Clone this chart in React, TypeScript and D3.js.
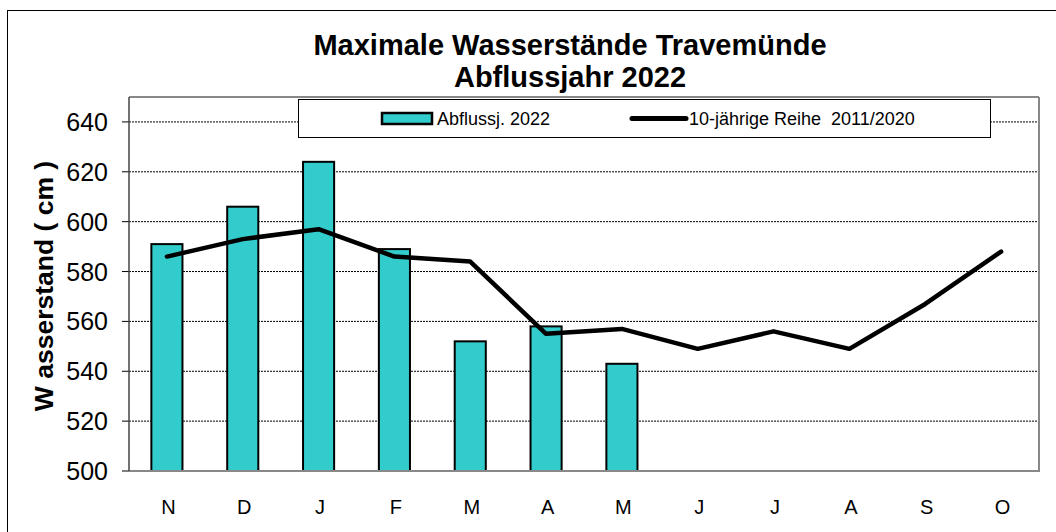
import React from 'react';
import * as d3 from 'd3';

const months = ['N', 'D', 'J', 'F', 'M', 'A', 'M', 'J', 'J', 'A', 'S', 'O'];
const abfluss2022 = [591, 606, 624, 589, 552, 558, 543];
const reihe10 = [586, 593, 597, 586, 584, 555, 557, 549, 556, 549, 567, 588];
const yTicks = [500, 520, 540, 560, 580, 600, 620, 640];

const W = 1056;
const H = 532;
const margin = { left: 129, top: 97, right: 1039, bottom: 471 };
const font = 'Arial, "Liberation Sans", sans-serif';

const App: React.FC = () => {
  const idx = months.map((_, i) => i);
  const x = d3.scaleBand<number>().domain(idx).range([margin.left, margin.right]);
  const y = d3.scaleLinear().domain([500, 650]).range([margin.bottom, margin.top]);
  const barW = x.bandwidth() * 0.41;
  const cx = (i: number) => (x(i) as number) + x.bandwidth() / 2;

  const line = d3.line<number>()
    .x((_, i) => cx(i))
    .y(d => y(d));

  return (
    <svg width={W} height={H} style={{ position: 'absolute', left: 0, top: 0 }} fontFamily={font}>
      <rect x={0} y={0} width={W} height={H} fill="#fff" />
      {/* outer chart frame */}
      <rect x={7.5} y={10.5} width={W + 20} height={H + 20} fill="none" stroke="#000" strokeWidth={1} />

      <text x={570} y={55} textAnchor="middle" fontSize={29} fontWeight="bold">Maximale Wasserstände Travemünde</text>
      <text x={570} y={87} textAnchor="middle" fontSize={29} fontWeight="bold">Abflussjahr 2022</text>

      {/* grid */}
      {yTicks.filter(t => t > 500).map(t => (
        <line key={t} x1={margin.left} x2={margin.right} y1={y(t)} y2={y(t)}
          stroke="#000" strokeWidth={1} strokeDasharray="2,1" />
      ))}

      {/* y tick marks + labels */}
      {yTicks.map(t => (
        <g key={t}>
          <line x1={margin.left - 7} x2={margin.left} y1={y(t)} y2={y(t)} stroke="#000" />
          <text x={108} y={y(t)} dy="0.36em" textAnchor="end" fontSize={25}>{t}</text>
        </g>
      ))}

      {/* bars */}
      {abfluss2022.map((v, i) => (
        <rect key={i} x={cx(i) - barW / 2} y={y(v)} width={barW} height={y(500) - y(v)}
          fill="#33CCCC" stroke="#000" strokeWidth={2} />
      ))}

      {/* plot frame */}
      <line x1={margin.left} x2={margin.right} y1={margin.top} y2={margin.top} stroke="#888" strokeWidth={2} />
      <line x1={margin.right} x2={margin.right} y1={margin.top} y2={margin.bottom} stroke="#888" strokeWidth={2} />
      <line x1={margin.left} x2={margin.right + 1} y1={margin.bottom} y2={margin.bottom} stroke="#888" strokeWidth={2} />
      <line x1={margin.left} x2={margin.left} y1={margin.top} y2={margin.bottom} stroke="#444" strokeWidth={1.5} />

      {/* 10-year line */}
      <path d={line(reihe10) ?? ''} fill="none" stroke="#000" strokeWidth={4.5} strokeLinejoin="round" strokeLinecap="round" />

      {/* x labels */}
      {months.map((m, i) => (
        <text key={i} x={cx(i) + 1.5} y={514} textAnchor="middle" fontSize={20}>{m}</text>
      ))}

      {/* y title */}
      <text transform="translate(53,286) rotate(-90)" textAnchor="middle" fontSize={26.5} fontWeight="bold">W asserstand ( cm )</text>

      {/* legend */}
      <rect x={298.5} y={99.5} width={692} height={38} fill="#fff" stroke="#000" strokeWidth={1} />
      <rect x={382} y={113} width={50} height={11} fill="#33CCCC" stroke="#000" strokeWidth={2.5} />
      <text x={437} y={125} fontSize={18}>Abflussj. 2022</text>
      <line x1={632} x2={686} y1={118.5} y2={118.5} stroke="#000" strokeWidth={5} strokeLinecap="round" />
      <text x={689} y={125} fontSize={18} style={{ whiteSpace: 'pre' }}>10-jährige Reihe  2011/2020</text>
    </svg>
  );
};

export default App;
